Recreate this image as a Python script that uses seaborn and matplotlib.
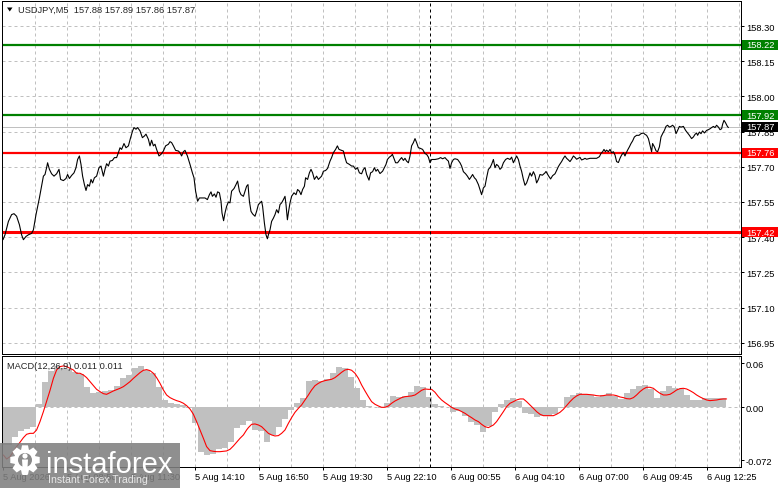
import matplotlib
matplotlib.use('Agg')
import matplotlib.pyplot as plt
import matplotlib.transforms as mtransforms
from matplotlib.patches import Rectangle, Polygon, Circle
import numpy as np
import seaborn as sns

# ---- price line (USDJPY M5 close), x = bar number from the left edge ----
price_bar = [
    0, 1.0, 2.7, 4.3, 5.5, 6.8, 8.2, 9.3, 10.2, 11.5,
    12.7, 14.3, 15.2, 16.5, 18.2, 19.3, 20.2, 21.0, 21.8, 22.3,
    23.2, 24.3, 25.5, 26.8, 28.0, 28.8, 30.2, 31.5, 32.3, 33.2,
    34.3, 35.5, 36.5, 37.3, 38.2, 39.0, 39.8, 40.7, 41.5, 42.3,
    43.2, 44.0, 44.8, 45.7, 46.8, 48.0, 49.0, 50.2, 51.0, 51.8,
    52.7, 53.5, 54.7, 55.7, 56.8, 57.7, 58.5, 59.3, 60.5, 61.5,
    62.7, 63.8, 64.8, 65.5, 66.5, 67.3, 68.5, 69.7, 70.7, 71.5,
    72.7, 73.5, 74.3, 75.2, 76.0, 76.8, 78.0, 79.0, 80.2, 81.3,
    82.7, 83.5, 84.3, 85.2, 86.3, 87.7, 88.5, 89.3, 90.2, 91.0,
    92.2, 93.5, 94.7, 95.5, 96.3, 97.3, 98.2, 99.3, 101.0, 102.2,
    103.2, 104.0, 104.7, 105.7, 106.5, 107.3, 108.2, 109.0, 109.5, 110.3,
    111.0, 111.8, 112.7, 113.5, 114.3, 115.5, 116.5, 117.3, 118.2, 119.0,
    120.2, 121.0, 121.8, 122.5, 123.2, 124.0, 124.8, 126.0, 126.8, 127.7,
    128.5, 129.3, 129.8, 130.7, 131.5, 132.2, 132.7, 133.5, 134.3, 135.2,
    136.0, 136.8, 137.7, 138.5, 139.3, 140.2, 141.0, 141.5, 142.2, 142.8,
    143.5, 144.3, 145.5, 146.5, 147.3, 148.2, 149.0, 149.8, 150.7, 151.3,
    152.3, 153.2, 154.0, 154.8, 155.7, 156.8, 157.7, 158.5, 159.3, 160.2,
    161.3, 162.3, 163.5, 164.3, 165.2, 166.3, 167.2, 168.0, 169.2, 170.2,
    171.0, 171.8, 173.2, 174.3, 175.2, 176.3, 177.2, 178.2, 179.3, 180.2,
    181.0, 181.8, 183.0, 183.8, 184.8, 185.7, 186.5, 187.3, 188.5, 189.8,
    190.7, 191.5, 192.2, 193.2, 194.0, 194.7, 195.7, 196.3, 197.3, 198.5,
    199.3, 200.2, 201.0, 201.8, 202.7, 203.5, 204.3, 205.2, 206.0, 206.8,
    207.7, 208.5, 209.8, 211.0, 211.8, 212.7, 213.5, 214.3, 216.0, 217.7,
    218.8, 219.8, 221.0, 221.8, 222.7, 223.5, 224.3, 225.2, 226.0, 227.3,
    228.5, 229.3, 230.2, 231.3, 232.2, 233.2, 234.0, 234.8, 235.7, 236.5,
    237.7, 238.5, 239.3, 240.2, 241.0, 241.8, 242.7, 243.5, 244.3, 245.2,
    246.0, 246.8, 247.7, 248.5, 249.3, 250.2, 251.3, 252.3, 253.5, 254.3,
    255.2, 256.0, 256.8, 257.7, 258.5, 259.3, 260.2, 261.0, 261.8, 262.7,
    263.5, 264.3, 265.2, 266.0, 266.8, 267.7, 268.5, 269.7, 271.0,
    271.5, 272.7, 273.8, 274.8, 276.0, 276.8, 277.7, 278.5, 279.3, 280.2,
    281.0, 281.8, 282.7, 283.5, 284.3, 285.2, 286.0, 286.8, 287.7, 288.5,
    289.3, 290.2, 291.0, 291.8, 293.5, 295.2, 296.8, 298.2, 299.0, 299.8,
    300.5, 301.2, 301.8, 302.7, 303.5, 304.3, 305.2, 306.0, 306.8, 307.7,
    308.5, 309.3, 310.2, 311.0, 311.5, 312.3, 313.2, 314.0, 314.8, 315.7,
    316.8, 318.0, 319.0, 320.2, 321.0, 321.8, 322.7, 323.5, 324.3, 324.8,
    325.7, 326.5, 327.3, 328.2, 329.0, 329.8, 330.7, 331.5, 332.3, 333.2,
    334.0, 334.8, 335.7, 336.5, 337.3, 338.2, 339.0, 340.2, 341.3, 342.3,
    343.2, 344.3, 345.2, 346.0, 346.8, 347.3, 348.2, 349.0, 349.8, 350.7,
    351.8, 352.7, 353.5, 354.3, 355.2, 356.0, 356.8, 357.7, 358.5, 359.3,
    359.8, 360.5, 361.3, 362.2, 362.7,
]
price = [
    157.389, 157.410, 157.467, 157.496, 157.500, 157.489, 157.453, 157.410, 157.389, 157.403,
    157.410, 157.416, 157.431, 157.496, 157.567, 157.617, 157.660, 157.667, 157.696, 157.717,
    157.689, 157.670, 157.660, 157.670, 157.689, 157.646, 157.641, 157.650, 157.667, 157.650,
    157.663, 157.674, 157.696, 157.731, 157.746, 157.710, 157.660, 157.624, 157.599, 157.624,
    157.617, 157.646, 157.631, 157.653, 157.660, 157.696, 157.703, 157.660, 157.689, 157.713,
    157.703, 157.724, 157.727, 157.739, 157.739, 157.760, 157.781, 157.774, 157.799, 157.781,
    157.789, 157.824, 157.853, 157.867, 157.860, 157.867, 157.853, 157.824, 157.831, 157.839,
    157.817, 157.789, 157.813, 157.789, 157.796, 157.774, 157.746, 157.753, 157.767, 157.789,
    157.796, 157.807, 157.803, 157.789, 157.770, 157.767, 157.760, 157.746, 157.764, 157.770,
    157.746, 157.710, 157.674, 157.653, 157.596, 157.553, 157.567, 157.567, 157.567, 157.560,
    157.581, 157.593, 157.574, 157.584, 157.570, 157.593, 157.589, 157.553, 157.503, 157.470,
    157.503, 157.531, 157.550, 157.546, 157.596, 157.607, 157.624, 157.639, 157.596, 157.581,
    157.574, 157.596, 157.617, 157.624, 157.553, 157.510, 157.499, 157.489, 157.510, 157.539,
    157.546, 157.553, 157.531, 157.460, 157.410, 157.393, 157.410, 157.431, 157.467, 157.481,
    157.496, 157.517, 157.503, 157.539, 157.546, 157.560, 157.574, 157.539, 157.474, 157.510,
    157.546, 157.574, 157.589, 157.581, 157.603, 157.596, 157.581, 157.603, 157.617, 157.653,
    157.646, 157.674, 157.689, 157.674, 157.646, 157.660, 157.646, 157.653, 157.660, 157.681,
    157.684, 157.693, 157.724, 157.739, 157.760, 157.774, 157.789, 157.774, 157.770, 157.767,
    157.739, 157.717, 157.710, 157.703, 157.703, 157.689, 157.696, 157.674, 157.670, 157.689,
    157.696, 157.667, 157.643, 157.674, 157.679, 157.696, 157.681, 157.689, 157.671, 157.681,
    157.696, 157.710, 157.731, 157.741, 157.746, 157.753, 157.731, 157.717, 157.717, 157.731,
    157.739, 157.727, 157.736, 157.724, 157.717, 157.746, 157.789, 157.803, 157.820, 157.803,
    157.781, 157.779, 157.774, 157.756, 157.753, 157.741, 157.717, 157.731, 157.731, 157.734,
    157.739, 157.734, 157.739, 157.731, 157.724, 157.693, 157.717, 157.731, 157.734, 157.731,
    157.717, 157.703, 157.679, 157.670, 157.660, 157.646, 157.656, 157.667, 157.653, 157.646,
    157.624, 157.603, 157.581, 157.610, 157.617, 157.653, 157.689, 157.696, 157.710, 157.731,
    157.696, 157.710, 157.703, 157.689, 157.696, 157.717, 157.731, 157.736, 157.731, 157.741,
    157.717, 157.731, 157.746, 157.731, 157.703, 157.681, 157.646, 157.621, 157.631, 157.653,
    157.674, 157.660, 157.679, 157.664, 157.631, 157.646, 157.667, 157.664, 157.674,
    157.680, 157.662, 157.648, 157.662, 157.670, 157.684, 157.701, 157.712, 157.722, 157.736,
    157.746, 157.736, 157.729, 157.722, 157.732, 157.746, 157.740, 157.732, 157.736, 157.740,
    157.729, 157.732, 157.736, 157.732, 157.736, 157.736, 157.736, 157.743, 157.757, 157.764,
    157.774, 157.764, 157.771, 157.764, 157.774, 157.760, 157.764, 157.750, 157.722, 157.718,
    157.736, 157.750, 157.760, 157.746, 157.757, 157.771, 157.785, 157.799, 157.810, 157.827,
    157.834, 157.834, 157.841, 157.844, 157.838, 157.834, 157.820, 157.792, 157.764, 157.799,
    157.785, 157.768, 157.764, 157.785, 157.827, 157.841, 157.855, 157.872, 157.877, 157.869,
    157.872, 157.877, 157.869, 157.841, 157.855, 157.872, 157.869, 157.872, 157.855, 157.844,
    157.834, 157.820, 157.827, 157.838, 157.844, 157.834, 157.848, 157.841, 157.853, 157.844,
    157.855, 157.858, 157.862, 157.867, 157.872, 157.867, 157.877, 157.869, 157.858, 157.862,
    157.881, 157.898, 157.887, 157.872, 157.867,
]

# ---- MACD(12,26,9): histogram (main line) and red signal line ----
hist_bar = list(range(0, 361, 3))
hist_val = [
    -0.052, -0.052, -0.040, -0.032, -0.030, -0.027, 0.005, 0.035, 0.0495, 0.0564,
    0.054, 0.0523, 0.0486, 0.045, 0.0282, 0.0191, 0.0205, 0.0227, 0.0236, 0.0291,
    0.0405, 0.0441, 0.0532, 0.0568, 0.0514, 0.0464, 0.0282, 0.010, 0.0055, 0.005,
    0.0032, -0.0014, -0.0218, -0.0605, -0.065, -0.064, -0.0568, -0.056, -0.0477, -0.0286,
    -0.0241, -0.0186, -0.0309, -0.0323, -0.0477, -0.0377, -0.0264, -0.0159, -0.0036, 0.0055,
    0.0123, 0.0359, 0.0373, 0.0359, 0.0386, 0.0464, 0.0555, 0.0532, 0.0418, 0.0259,
    0.010, 0.0023, 0.0009, -0.0005, 0.0064, 0.0159, 0.0145, 0.0159, 0.0214, 0.0291,
    0.0273, 0.0145, 0.0045, 0.0023, 0.0, -0.0059, -0.005, -0.0114, -0.0195, -0.0241,
    -0.0341, -0.025, -0.0068, 0.0045, 0.010, 0.0132, 0.0086, -0.0082, -0.0095, -0.0127,
    -0.0118, -0.0114, -0.0095, -0.0014, 0.0145, 0.0168, 0.020, 0.0177, 0.0168, 0.0145,
    0.0168, 0.0191, 0.0159, 0.0114, 0.0191, 0.025, 0.0295, 0.0305, 0.025, 0.0132,
    0.0223, 0.0291, 0.0268, 0.025, 0.0168, 0.010, 0.010, 0.0123, 0.0123, 0.0132,
    0.0123,
]

signal_bar = [
    0.2, 1.8, 3.5, 5.2, 6.8, 8.5, 10.2, 11.8, 13.5, 15.2,
    16.8, 18.5, 20.2, 21.8, 23.5, 25.2, 26.8, 28.5, 30.2, 31.8,
    33.5, 35.2, 36.8, 38.5, 40.2, 41.8, 43.5, 45.2, 46.8, 48.5,
    50.2, 51.8, 53.5, 55.2, 56.8, 58.5, 60.2, 61.8, 63.5, 65.2,
    66.8, 68.5, 70.2, 71.8, 73.5, 75.2, 76.8, 78.5, 80.2, 81.8,
    83.5, 85.2, 86.8, 88.5, 90.2, 91.8, 93.5, 95.2, 96.8, 98.5,
    100.2, 101.8, 103.5, 105.2, 106.8, 108.5, 110.2, 111.8, 113.5, 115.2,
    116.8, 118.5, 120.2, 121.8,
    122.7, 124.3, 126.0, 127.7, 129.3, 131.0, 132.7, 134.3, 136.0, 137.7,
    139.3, 141.0, 142.7, 144.3, 146.0, 147.7, 149.3, 151.0, 152.7, 154.3,
    156.0, 157.7, 159.3, 161.0, 162.7, 164.3, 166.0, 167.7, 169.3, 171.0,
    172.7, 174.3, 176.0, 177.7, 179.3, 181.0, 182.7, 184.3, 186.0, 187.7,
    189.3, 191.0, 192.7, 194.3, 196.0, 197.7, 199.3, 201.0, 202.7, 204.3,
    206.0, 207.7, 209.3, 211.0, 212.7, 214.3, 216.0, 217.7, 219.3, 221.0,
    222.7, 224.3, 226.0, 227.7, 229.3, 231.0, 232.7, 234.3, 236.0, 237.7,
    239.3, 241.0, 242.7, 244.3,
    245.2, 246.8, 248.5, 250.2, 251.8, 253.5, 255.2, 256.8, 258.5, 260.2,
    261.8, 263.5, 265.2, 266.8, 268.5, 270.2, 271.8, 273.5, 275.2, 276.8,
    278.5, 280.2, 281.8, 283.5, 285.2, 286.8, 288.5, 290.2, 291.8, 293.5,
    295.2, 296.8, 298.5, 300.2, 301.8, 303.5, 305.2, 306.8, 308.5, 310.2,
    311.8, 313.5, 315.2, 316.8, 318.5, 320.2, 321.8, 323.5, 325.2, 326.8,
    328.5, 330.2, 331.8, 333.5, 335.2, 336.8, 338.5, 340.2, 341.8, 343.5,
    345.2, 346.8, 348.5, 350.2, 351.8, 353.5, 355.2, 356.8, 358.5, 360.2,
    361.8,
]
signal_val = [
    -0.0650, -0.0705, -0.0673, -0.0605, -0.0536, -0.0477, -0.0414, -0.0368, -0.0355, -0.0355,
    -0.0309, -0.0195, -0.0059, 0.0080, 0.0230, 0.0395, 0.0509, 0.0555, 0.0564, 0.0555,
    0.0532, 0.0509, 0.0464, 0.0464, 0.0441, 0.0405, 0.0350, 0.0295, 0.0245, 0.0214,
    0.0186, 0.0177, 0.0200, 0.0223, 0.0241, 0.0259, 0.0282, 0.0314, 0.0350, 0.0395,
    0.0432, 0.0473, 0.0505, 0.0514, 0.0500, 0.0464, 0.0405, 0.0327, 0.0236, 0.0168,
    0.0132, 0.0109, 0.0091, 0.0077, 0.0055, 0.0023, -0.0023, -0.0095, -0.0195, -0.0309,
    -0.0423, -0.0536, -0.0591, -0.0600, -0.0605, -0.0605, -0.0600, -0.0595, -0.0573, -0.0527,
    -0.0477, -0.0423, -0.0377, -0.0309,
    -0.0277, -0.0232, -0.0227, -0.0241, -0.0264, -0.0309, -0.0355, -0.0377, -0.0391, -0.0386,
    -0.0355, -0.0309, -0.0218, -0.0141, -0.0068, -0.0014, 0.0032, 0.0100, 0.0168, 0.0236,
    0.0295, 0.0327, 0.0350, 0.0364, 0.0373, 0.0382, 0.0405, 0.0441, 0.0477, 0.0509,
    0.0518, 0.0505, 0.0464, 0.0395, 0.0305, 0.0223, 0.0145, 0.0077, 0.0041, 0.0018,
    0.0000, 0.0000, 0.0018, 0.0055, 0.0086, 0.0109, 0.0132, 0.0145, 0.0150, 0.0155,
    0.0168, 0.0200, 0.0232, 0.0250, 0.0245, 0.0245, 0.0205, 0.0145, 0.0100, 0.0064,
    0.0032, 0.0000, -0.0023, -0.0036, -0.0059, -0.0082, -0.0114, -0.0141, -0.0173, -0.0195,
    -0.0232, -0.0264, -0.0277, -0.0255,
    -0.0241, -0.0195, -0.0127, -0.0059, 0.0009, 0.0055, 0.0077, 0.0100, 0.0114, 0.0114,
    0.0077, 0.0032, -0.0014, -0.0059, -0.0095, -0.0114, -0.0114, -0.0114, -0.0114, -0.0095,
    -0.0068, -0.0027, 0.0023, 0.0077, 0.0123, 0.0155, 0.0177, 0.0177, 0.0177, 0.0173,
    0.0168, 0.0159, 0.0155, 0.0159, 0.0168, 0.0168, 0.0168, 0.0159, 0.0141, 0.0132,
    0.0118, 0.0114, 0.0132, 0.0168, 0.0214, 0.0250, 0.0273, 0.0273, 0.0259, 0.0223,
    0.0191, 0.0168, 0.0168, 0.0177, 0.0205, 0.0236, 0.0255, 0.0259, 0.0250, 0.0227,
    0.0200, 0.0168, 0.0141, 0.0118, 0.0100, 0.0091, 0.0095, 0.0100, 0.0109, 0.0114,
    0.0114,
]

# ---- levels, ticks and labels ----
level_price = [158.22, 157.92, 157.76, 157.42]
level_color = ['#008000', '#008000', '#ff0000', '#ff0000']
last_price = 157.87
price_ticks = [156.95, 157.10, 157.25, 157.40, 157.55, 157.70, 157.85, 158.00, 158.15, 158.30]
macd_ticks = [0.06, 0.0, -0.072]
macd_tick_labels = ['0.06', '0.00', '-0.072']
time_bar = [0, 32, 64, 96, 128, 160, 192, 224, 256, 288, 320, 352]
time_labels = ['5 Aug 2026', '5 Aug 08:50', '5 Aug 11:30', '5 Aug 14:10', '5 Aug 16:50',
               '5 Aug 19:30', '5 Aug 22:10', '6 Aug 00:55', '6 Aug 04:10', '6 Aug 07:00',
               '6 Aug 09:45', '6 Aug 12:25']
cursor_bar = 213.3
title = 'USDJPY,M5  157.88 157.89 157.86 157.87'
macd_title = 'MACD(12,26,9) 0.011 0.011'

sns.set_style('white')
plt.rcParams['font.family'] = ['Liberation Sans', 'DejaVu Sans']

W, H = 781, 489
PX = 0.72          # one pixel in points
GRID = '#c0c0c0'
FS = 6.7

fig = plt.figure(figsize=(W / 100, H / 100), dpi=100)
ax = fig.add_axes([2 / W, 1 - 355 / H, 739 / W, 353 / H])
axm = fig.add_axes([2 / W, 1 - 468 / H, 739 / W, 111 / H])

for a in (ax, axm):
    a.set_xlim(-0.5, 369)
    for s in a.spines.values():
        s.set_color('black')
        s.set_linewidth(PX)
    for t in range(16, 369, 16):
        a.axvline(t, color=GRID, lw=PX, ls=(0, (3, 3)), zorder=0)
    a.axvline(cursor_bar, color='black', lw=PX, ls=(0, (3, 3)), zorder=6)
    a.tick_params(axis='y', which='both', right=True, left=False, length=3 * PX,
                  width=PX, pad=2 * PX, labelsize=FS, colors='black',
                  labelright=True, labelleft=False)

# main price panel
ax.set_ylim(156.9018, 158.4066)
for v in price_ticks:
    ax.axhline(v, color=GRID, lw=PX, ls=(0, (3, 3)), zorder=0)
ax.axhline(last_price, color=GRID, lw=PX, zorder=1)
for lvl, col in zip(level_price, level_color):
    lw = 2.2 if lvl == 157.42 else 1.6
    ax.axhline(lvl, color=col, lw=lw, zorder=2)
sns.lineplot(x=price_bar, y=price, ax=ax, color='black', lw=PX * 1.1,
             estimator=None, sort=False, zorder=4)
ax.set_yticks(price_ticks)
ax.set_yticklabels([f'{v:.2f}' for v in price_ticks])
ax.set_xticks([])
ax.set_xlabel('')
ax.set_ylabel('')

# price tags on the right axis
blend = mtransforms.blended_transform_factory(ax.transAxes, ax.transData)
half = 5 / 234.6
tags = list(zip(level_price, level_color)) + [(last_price, 'black')]
for lvl, col in tags:
    ax.add_patch(Rectangle((1.0007, lvl - half), 0.0494, 2 * half, transform=blend,
                           facecolor=col, edgecolor='none', clip_on=False, zorder=10))
    ax.text(1.0068, lvl, f'{lvl:.2f}', transform=blend, color='white', fontsize=FS,
            va='center', ha='left', clip_on=False, zorder=11)

# MACD panel
axm.set_ylim(-0.0814, 0.06996)
axm.axhline(0, color=GRID, lw=PX, ls=(0, (3, 3)), zorder=0)
axm.bar(hist_bar, hist_val, width=3.0, color='#c0c0c0', linewidth=0,
        antialiased=False, zorder=1)
sns.lineplot(x=signal_bar, y=signal_val, ax=axm, color='#ff0000', lw=PX * 1.1,
             estimator=None, sort=False, zorder=4)
axm.set_yticks(macd_ticks)
axm.set_yticklabels(macd_tick_labels)
axm.set_xticks(time_bar)
axm.set_xticklabels(time_labels, ha='left')
axm.tick_params(axis='x', bottom=True, length=3 * PX, width=PX, pad=2 * PX,
                labelsize=FS, colors='black')
axm.set_xlabel('')
axm.set_ylabel('')

# titles
fig.text(18 / W, 1 - 10.7 / H, title, fontsize=FS, va='center', ha='left')
fig.text(7.3 / W, 1 - 366.7 / H, macd_title, fontsize=FS, va='center', ha='left')

# overlay in pixel coordinates: menu triangle and watermark
ov = fig.add_axes([0, 0, 1, 1], zorder=20)
ov.set_xlim(0, W)
ov.set_ylim(H, 0)
ov.axis('off')
ov.add_patch(Polygon([(7, 8.5), (12.5, 8.5), (9.75, 12.5)], closed=True,
                     facecolor='black', edgecolor='none'))
ov.add_patch(Rectangle((0, 444), 180, 45, facecolor='#808080', edgecolor='none', alpha=0.88))

cx, cy = 25, 461
pts = []
for k in range(8):
    a0 = 2 * np.pi * k / 8
    for da, r in ((-0.36, 11), (-0.2, 15), (0.2, 15), (0.36, 11)):
        pts.append((cx + r * np.cos(a0 + da), cy + r * np.sin(a0 + da)))
ov.add_patch(Polygon(pts, closed=True, facecolor='white', edgecolor='none'))
ov.add_patch(Circle((cx, cy), 7, facecolor='#8a8a8a', edgecolor='none'))
ov.add_patch(Circle((cx, cy - 4), 2.6, facecolor='white', edgecolor='none'))
ov.add_patch(Polygon([(cx - 3, cy - 0.5), (cx + 3, cy - 0.5), (cx + 2, cy + 15), (cx - 2, cy + 15)],
                     closed=True, facecolor='white', edgecolor='none'))
ov.text(46, 473, 'instaforex', color='white', fontsize=21, va='baseline', ha='left')
ov.text(48, 482.7, 'Instant Forex Trading', color='#e8e8e8', fontsize=7.6,
        va='baseline', ha='left')

fig.savefig('out.png', dpi=100)
